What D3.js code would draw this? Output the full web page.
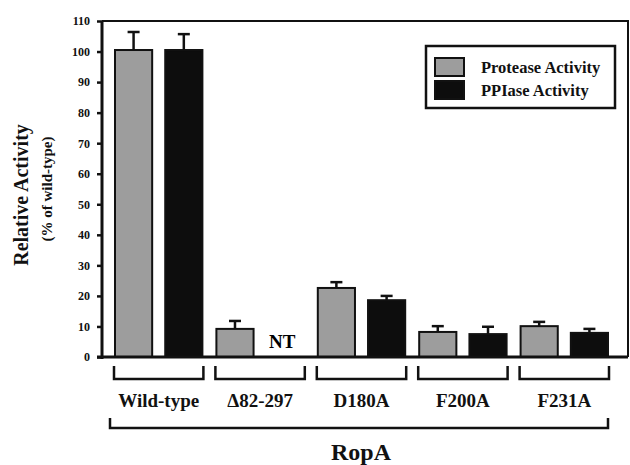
<!DOCTYPE html>
<html>
<head>
<meta charset="utf-8">
<script src="https://cdn.jsdelivr.net/npm/d3@7"></script>
<style>
  body { margin: 0; background: #fff; }
  svg { display: block; font-family: "Liberation Serif", "Times New Roman", serif; font-weight: bold; }
</style>
</head>
<body>
<div id="chart"></div>
<script>
// data
const groups = ["Wild-type", "\u039482-297", "D180A", "F200A", "F231A"];
const series = ["Protease Activity", "PPIase Activity"];
const protease = [100.5, 9.2, 22.6, 8.2, 10.1];
const proteaseErr = [5.9, 2.6, 1.9, 1.9, 1.4];
const ppiase = [100.5, null, 18.6, 7.5, 7.9]; // null = not tested
const ppiaseErr = [5.2, null, 1.4, 2.4, 1.3];
const yTicks = [0, 10, 20, 30, 40, 50, 60, 70, 80, 90, 100, 110];

const width = 630, height = 465;
const colors = ["#9d9d9d", "#0d0d0d"];

const svg = d3.select("#chart").append("svg")
    .attr("width", width)
    .attr("height", height);

const y = d3.scaleLinear().domain([0, 110]).range([357, 21]);
const x = d3.scaleBand().domain(groups).range([108, 615]).padding(0);
const xi = d3.scaleBand().domain(series).range([7, x.bandwidth() - 7]).paddingInner(0.26);

const rows = [];
groups.forEach((g, i) => {
    rows.push({ group: g, s: series[0], v: protease[i], e: proteaseErr[i] });
    rows.push({ group: g, s: series[1], v: ppiase[i], e: ppiaseErr[i] });
});
const barX = d => x(d.group) + xi(d.s);

// frame: top and right lines
svg.append("path")
    .attr("d", `M${102},${y(110)}H628V${y(0)}`)
    .attr("fill", "none").attr("stroke", "#111").attr("stroke-width", 2);

// error bars (drawn under bars)
const err = svg.append("g").attr("stroke", "#111").attr("stroke-width", 2.5)
    .selectAll("g").data(rows.filter(d => d.v != null)).join("g");
err.append("line")
    .attr("x1", d => barX(d) + xi.bandwidth() / 2).attr("x2", d => barX(d) + xi.bandwidth() / 2)
    .attr("y1", d => y(d.v)).attr("y2", d => y(d.v + d.e));
err.append("line")
    .attr("x1", d => barX(d) + xi.bandwidth() / 2 - 6).attr("x2", d => barX(d) + xi.bandwidth() / 2 + 6)
    .attr("y1", d => y(d.v + d.e)).attr("y2", d => y(d.v + d.e));

// bars
svg.append("g").selectAll("rect")
    .data(rows.filter(d => d.v != null))
    .join("rect")
    .attr("x", d => barX(d))
    .attr("y", d => y(d.v))
    .attr("width", xi.bandwidth())
    .attr("height", d => y(0) - y(d.v))
    .attr("fill", d => colors[series.indexOf(d.s)])
    .attr("stroke", "#111")
    .attr("stroke-width", 2);

// NT label for the untested bar
svg.append("g").selectAll("text")
    .data(rows.filter(d => d.v == null))
    .join("text")
    .attr("x", d => barX(d) + xi.bandwidth() / 2 - 3)
    .attr("y", 348)
    .attr("text-anchor", "middle")
    .attr("font-size", 19)
    .text("NT");

// y axis
const yAxis = svg.append("g")
    .attr("transform", "translate(102,0)")
    .call(d3.axisLeft(y).tickValues(yTicks).tickSize(5).tickPadding(7));
yAxis.select(".domain").attr("stroke", "#111").attr("stroke-width", 3)
    .attr("d", `M0,${y(110)}V${y(0) + 2}`);
yAxis.selectAll(".tick line").attr("stroke", "#111").attr("stroke-width", 2.5);
yAxis.selectAll(".tick text")
    .attr("font-family", "Liberation Serif, serif")
    .attr("font-weight", "bold")
    .attr("font-size", 12)
    .attr("fill", "#111");

// x axis baseline
svg.append("line")
    .attr("x1", 97).attr("x2", 628)
    .attr("y1", y(0)).attr("y2", y(0))
    .attr("stroke", "#111").attr("stroke-width", 3);

// group brackets and labels
const gb = svg.append("g").selectAll("g").data(groups).join("g");
gb.append("path")
    .attr("d", g => {
        const l = x(g) + xi(series[0]) - 1;
        const r = x(g) + xi(series[1]) + xi.bandwidth() + 1;
        return `M${l},366V379H${r}V366`;
    })
    .attr("fill", "none").attr("stroke", "#111").attr("stroke-width", 2.5);
gb.append("text")
    .attr("x", g => x(g) + x.bandwidth() / 2)
    .attr("y", 407)
    .attr("text-anchor", "middle")
    .attr("font-size", 19)
    .attr("fill", "#111")
    .text(g => g);

// outer RopA bracket
const bl = x(groups[0]) + 2;
const br = x(groups[groups.length - 1]) + xi(series[1]) + xi.bandwidth();
svg.append("path")
    .attr("d", `M${bl},418V428H${br}V418`)
    .attr("fill", "none").attr("stroke", "#111").attr("stroke-width", 2.5);
svg.append("text")
    .attr("x", (bl + br) / 2 + 2)
    .attr("y", 460)
    .attr("text-anchor", "middle")
    .attr("font-size", 24)
    .attr("fill", "#111")
    .text("RopA");

// y axis titles
svg.append("text")
    .attr("transform", "translate(28,195) rotate(-90)")
    .attr("text-anchor", "middle")
    .attr("font-size", 20)
    .attr("fill", "#111")
    .text("Relative Activity");
svg.append("text")
    .attr("transform", "translate(52,189) rotate(-90)")
    .attr("text-anchor", "middle")
    .attr("font-size", 15)
    .attr("fill", "#111")
    .text("(% of wild-type)");

// legend
const lg = svg.append("g").attr("transform", "translate(426,46)");
lg.append("rect")
    .attr("width", 189).attr("height", 62)
    .attr("fill", "#fff").attr("stroke", "#111").attr("stroke-width", 2.5);
const li = lg.selectAll("g.item").data(series).join("g")
    .attr("class", "item")
    .attr("transform", (d, i) => `translate(9,${12 + i * 23})`);
li.append("rect")
    .attr("width", 29).attr("height", 18)
    .attr("fill", (d, i) => colors[i])
    .attr("stroke", "#111").attr("stroke-width", 2);
li.append("text")
    .attr("x", 46).attr("y", 15)
    .attr("font-size", 16.5)
    .attr("fill", "#111")
    .text(d => d);
</script>
</body>
</html>
